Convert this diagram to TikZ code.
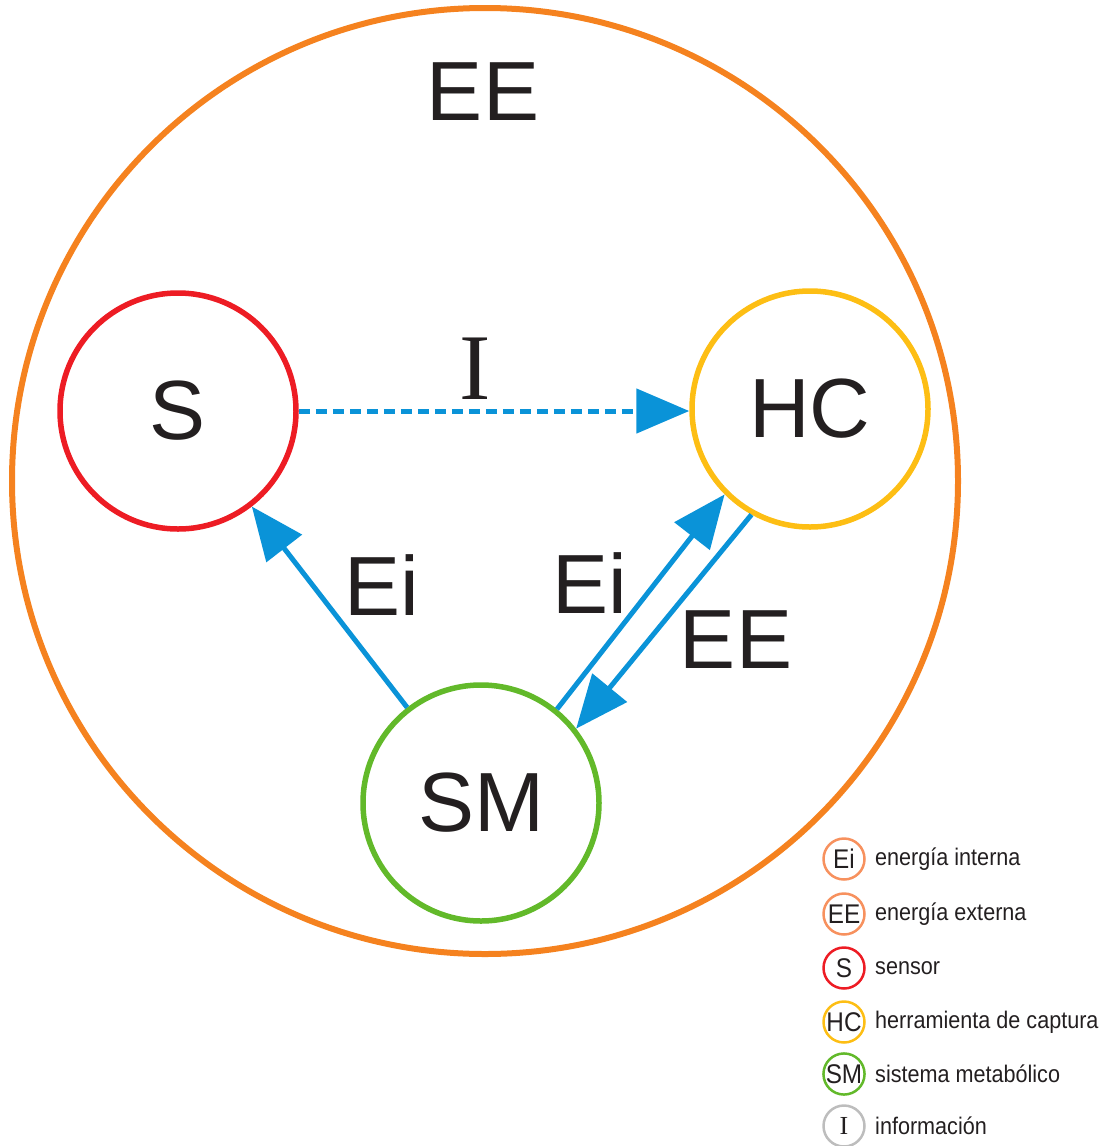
\documentclass[tikz,border=0pt]{standalone}
\usepackage{fontspec}
\setmainfont{Liberation Sans}
\newfontfamily\legendfont[FakeStretch=0.9]{Liberation Sans}
\newfontfamily\serifI{Liberation Serif}
\usetikzlibrary{arrows.meta}

\definecolor{ringorange}{HTML}{F5821F}
\definecolor{lightorange}{HTML}{F7915E}
\definecolor{sensorred}{HTML}{ED1C24}
\definecolor{toolyellow}{HTML}{FDBE14}
\definecolor{metagreen}{HTML}{62B92A}
\definecolor{infogray}{HTML}{BDBDBD}
\definecolor{flowblue}{HTML}{0A93D8}
\definecolor{ink}{HTML}{231F20}

\tikzset{
  bigtext/.style={text=ink, font=\fontsize{84}{84}\selectfont, inner sep=0pt},
  partcircle/.style={circle, draw=#1, line width=5.5pt, minimum size=236pt, inner sep=0pt,
    text=ink, font=\fontsize{84}{84}\selectfont},
  flow/.style={draw=flowblue, line width=5pt, -{Triangle[length=53pt,width=44pt]}},
  keycircle/.style={circle, draw=#1, line width=2.5pt, minimum size=41pt, inner sep=0pt,
    text=ink, font=\legendfont\fontsize{27}{27}\selectfont},
  keytext/.style={anchor=west, inner sep=0pt, text=ink, font=\legendfont\fontsize{24}{24}\selectfont},
}

\begin{document}
\begin{tikzpicture}[x=1pt,y=-1pt]
\useasboundingbox (0,0) rectangle (1116,1146);

% environment boundary
\node[circle, draw=ringorange, line width=6pt, minimum size=946pt, inner sep=0pt] (env) at (485,481) {};
\node[bigtext] (envlabel) at (483,92) {EE};

% the three parts
\node[partcircle=sensorred] (s) at (178,411) {S};
\node[partcircle=toolyellow] (hc) at (810,409) {HC};
\node[partcircle=metagreen] (sm) at (481,803) {SM};

% information flow (kept level)
\draw[flow, dash pattern=on 11pt off 6pt] (s.east) -- (s.east -| hc.west);
\node[text=ink, inner sep=0pt, font=\serifI\fontsize{94}{94}\selectfont] (info) at (475,369) {I};

% energy flows
\draw[flow] (sm) -- (s);
\draw[flow] (sm.51) -- (hc.225);
\draw[flow] (hc.241) -- (sm.38);
\node[bigtext] (eileft) at (382,585) {Ei};
\node[bigtext] (eimid) at (590,583) {Ei};
\node[bigtext] (eeright) at (736,640) {EE};

% key
\node[keycircle=lightorange] (k1) at (844,859) {Ei};
\node[keytext] (t1) at (875,859) {energía interna};
\node[keycircle=lightorange] (k2) at (844,914) {EE};
\node[keytext] (t2) at (875,914) {energía externa};
\node[keycircle=sensorred] (k3) at (844,968) {S};
\node[keytext] (t3) at (875,968) {sensor};
\node[keycircle=toolyellow] (k4) at (844,1022) {HC};
\node[keytext] (t4) at (875,1022) {herramienta de captura};
\node[keycircle=metagreen] (k5) at (844,1074) {SM};
\node[keytext] (t5) at (875,1074) {sistema metabólico};
\node[keycircle=infogray, font=\serifI\fontsize{26}{26}\selectfont] (k6) at (844,1126) {I};
\node[keytext] (t6) at (875,1126) {información};
\end{tikzpicture}
\end{document}
